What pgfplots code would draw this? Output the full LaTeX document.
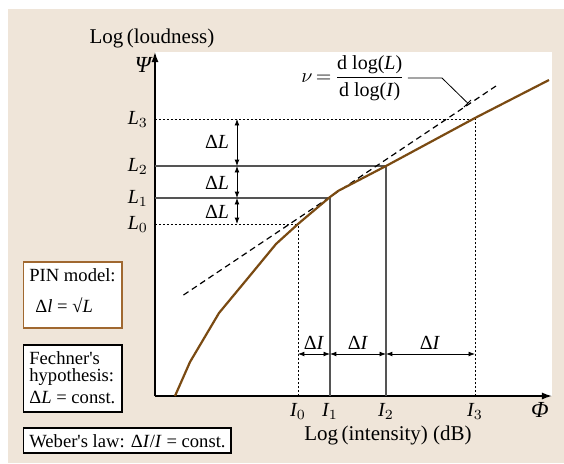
\documentclass[border=0pt]{standalone}
\usepackage{pgfplots}
\pgfplotsset{compat=1.18}
\usepackage{fontspec}
\setmainfont{Liberation Serif}
\usetikzlibrary{arrows.meta}
\definecolor{bgbeige}{HTML}{EFE5D9}
\definecolor{curvebrown}{HTML}{7A4A12}
\definecolor{boxbrown}{HTML}{A06830}
\definecolor{guidegray}{HTML}{555555}
\newcommand\boxfont{\fontsize{9.3}{11}\selectfont}
\newcommand\labfont{\fontsize{10.5}{12}\selectfont}
\newcommand\anfont{\fontsize{10}{12}\selectfont}
\begin{document}
\begin{tikzpicture}
% page and beige panel (axis origin sits at 0,0)
\fill[white] (-77.5pt,-33.5pt) rectangle (204.5pt,198pt);
\fill[bgbeige] (-73.5pt,-33.5pt) rectangle (204.5pt,193.5pt);
\begin{axis}[
  x=0.5pt, y=0.5pt,
  xmin=0, xmax=397, ymin=0, ymax=344,
  axis x line=bottom, axis y line=left,
  axis line style={line width=0.7pt, -{Latex[length=5pt,width=3.5pt]}},
  axis background/.style={fill=white},
  xtick={143,175,231,320},
  xticklabels={$\mathit{I}_0$,$\mathit{I}_1$,$\mathit{I}_2$,$\mathit{I}_3$},
  ytick={172,198,230,277},
  yticklabels={$\mathit{L}_0$,$\mathit{L}_1$,$\mathit{L}_2$,$\mathit{L}_3$},
  major tick length=0pt,
  tick label style={font=\anfont},
  clip=false,
  dotted guide/.style={black, line width=0.4pt, dash pattern=on 1pt off 1pt},
  solid guide/.style={guidegray, line width=0.6pt},
  dim arrow/.style={black, line width=0.4pt, {Latex[length=3.2pt,width=2.4pt]}-{Latex[length=3.2pt,width=2.4pt]}},
]
% guide lines
\addplot[dotted guide] coordinates {(0,172) (143,172)};
\addplot[solid guide] coordinates {(0,198) (175,198)};
\addplot[solid guide] coordinates {(0,230) (231,230)};
\addplot[dotted guide] coordinates {(0,277) (320,277)};
\addplot[dotted guide] coordinates {(143,0) (143,172)};
\addplot[solid guide] coordinates {(175,0) (175,198)};
\addplot[solid guide] coordinates {(231,0) (231,230)};
\addplot[dotted guide] coordinates {(320,0) (320,277)};
% tangent
\addplot[black, line width=0.6pt, dash pattern=on 3pt off 2pt] coordinates {(28.5,101) (341,310)};
% loudness curve
\addplot[curvebrown, line width=1.1pt] coordinates {
  (20,0) (35,34) (64,83) (93,118) (121,152) (143,172) (175,199) (183,205)
  (231,230) (320,278) (394,316)
};
% Delta L arrows
\addplot[dim arrow] coordinates {(82,277) (82,230)};
\addplot[dim arrow] coordinates {(82,230) (82,198)};
\addplot[dim arrow] coordinates {(82,198) (82,172)};
% Delta I arrows
\addplot[dim arrow] coordinates {(143,42) (175,42)};
\addplot[dim arrow] coordinates {(175,42) (231,42)};
\addplot[dim arrow] coordinates {(231,42) (320,42)};
% leader to tangent
\addplot[black, line width=0.4pt] coordinates {(253,318) (287,318) (312.6,293)};
\addplot[black, line width=0.4pt] coordinates {(309,289) (316,296)};

\node[font=\anfont, inner sep=0] at (axis cs:62,254) {Δ\textit{L}};
\node[font=\anfont, inner sep=0] at (axis cs:62,213) {Δ\textit{L}};
\node[font=\anfont, inner sep=0] at (axis cs:62,184) {Δ\textit{L}};
\node[font=\anfont, inner sep=0] at (axis cs:159,53) {Δ\textit{I}};
\node[font=\anfont, inner sep=0] at (axis cs:203,53) {Δ\textit{I}};
\node[font=\anfont, inner sep=0] at (axis cs:275,53) {Δ\textit{I}};

\node[font=\fontsize{10}{12}\selectfont, anchor=east, inner sep=0] at (axis cs:250,318)
  {$\displaystyle\nu\,{=}\,\frac{\mbox{d log(\textit{L})}}{\mbox{d log(\textit{I})}}$};

\node[font=\labfont, inner sep=0] at (axis cs:-3,358) {Log\,(loudness)};
\node[font=\labfont, inner sep=0] at (axis cs:233,-39) {Log\,(intensity) (dB)};
\node[font=\fontsize{11.5}{13}\selectfont\itshape, inner sep=0] at (axis cs:-12,331) {Ψ};
\node[font=\fontsize{11.5}{13}\selectfont\itshape, inner sep=0] at (axis cs:385,-14) {Φ};

% side boxes
\draw[boxbrown, line width=0.6pt, fill=white] (axis cs:-131.6,134) rectangle (axis cs:-33,68);
\node[font=\boxfont, anchor=west, inner sep=0] at (axis cs:-126,121) {PIN model:};
\node[font=\boxfont, anchor=west, inner sep=0] at (axis cs:-120,91) {Δ\textit{l} = √\textit{L}};

\draw[black, line width=0.6pt, fill=white] (axis cs:-131.6,51) rectangle (axis cs:-33,-16);
\node[font=\boxfont, anchor=west, inner sep=0] at (axis cs:-126,38) {Fechner\textquotesingle s};
\node[font=\boxfont, anchor=west, inner sep=0] at (axis cs:-126,19) {hypothesis:};
\node[font=\boxfont, anchor=west, inner sep=0] at (axis cs:-126,-1) {Δ\textit{L} = const.};

\draw[black, line width=0.6pt, fill=white] (axis cs:-131.6,-32) rectangle (axis cs:76,-57);
\node[font=\boxfont, anchor=west, inner sep=0] at (axis cs:-126,-45) {Weber\textquotesingle s law: Δ\textit{I}/\textit{I} = const.};
\end{axis}
\end{tikzpicture}
\end{document}
